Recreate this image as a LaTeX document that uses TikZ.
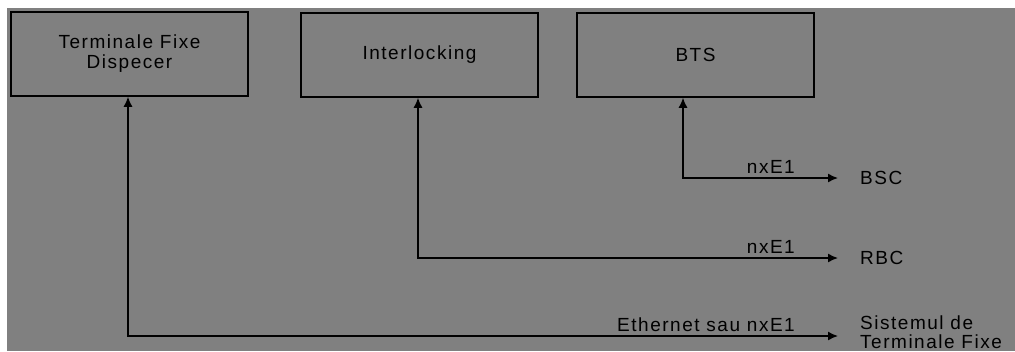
\documentclass[tikz,border=0pt]{standalone}
\usepackage{fontspec}
\setmainfont{Liberation Sans}[LetterSpace=8]
\usetikzlibrary{arrows.meta}
\tikzset{>={Latex[length=10pt,width=9pt]}}

\begin{document}
\begin{tikzpicture}[x=1pt,y=-1pt,font=\fontsize{19}{20}\selectfont,
    blok/.style={draw=black,line width=1.5pt,minimum width=237pt,
      minimum height=84pt,align=center},
    lbl/.style={inner sep=0pt,align=left},
    wire/.style={<->,line width=1.5pt}]
  \useasboundingbox (0,0) rectangle (1015,351);
  \fill[white] (0,0) rectangle (1015,351);
  \fill[gray] (7,8) rectangle (1015,351);

  \node[blok] (tfd) at (129.5,54) {Terminale Fixe\\Dispecer};
  \node[blok] (ilk) at (419.5,55) {Interlocking};
  \node[blok] (bts) at (695.5,55) {BTS};

  \node[lbl,anchor=west] (bsc) at (860,178) {BSC};
  \node[lbl,anchor=west] (rbc) at (860,258) {RBC};
  \node[lbl,anchor=west,font=\fontsize{19}{19}\selectfont] (stf) at (860,332)
    {Sistemul de\\Terminale Fixe};

  \draw[wire] ([xshift=-12.5pt]bts.south) |- ([xshift=-22pt]bsc.west);
  \draw[wire] ([xshift=-1.5pt]ilk.south) |- ([xshift=-22pt]rbc.west);
  \draw[wire] ([xshift=-1.5pt]tfd.south) |- ([xshift=-22pt,yshift=-4pt]stf.west);

  \node[lbl,anchor=south east] (e1a) at (795,174) {nxE1};
  \node[lbl,anchor=south east] (e1b) at (795,254) {nxE1};
  \node[lbl,anchor=south east] (eth) at (795,332) {Ethernet sau nxE1};
\end{tikzpicture}
\end{document}
